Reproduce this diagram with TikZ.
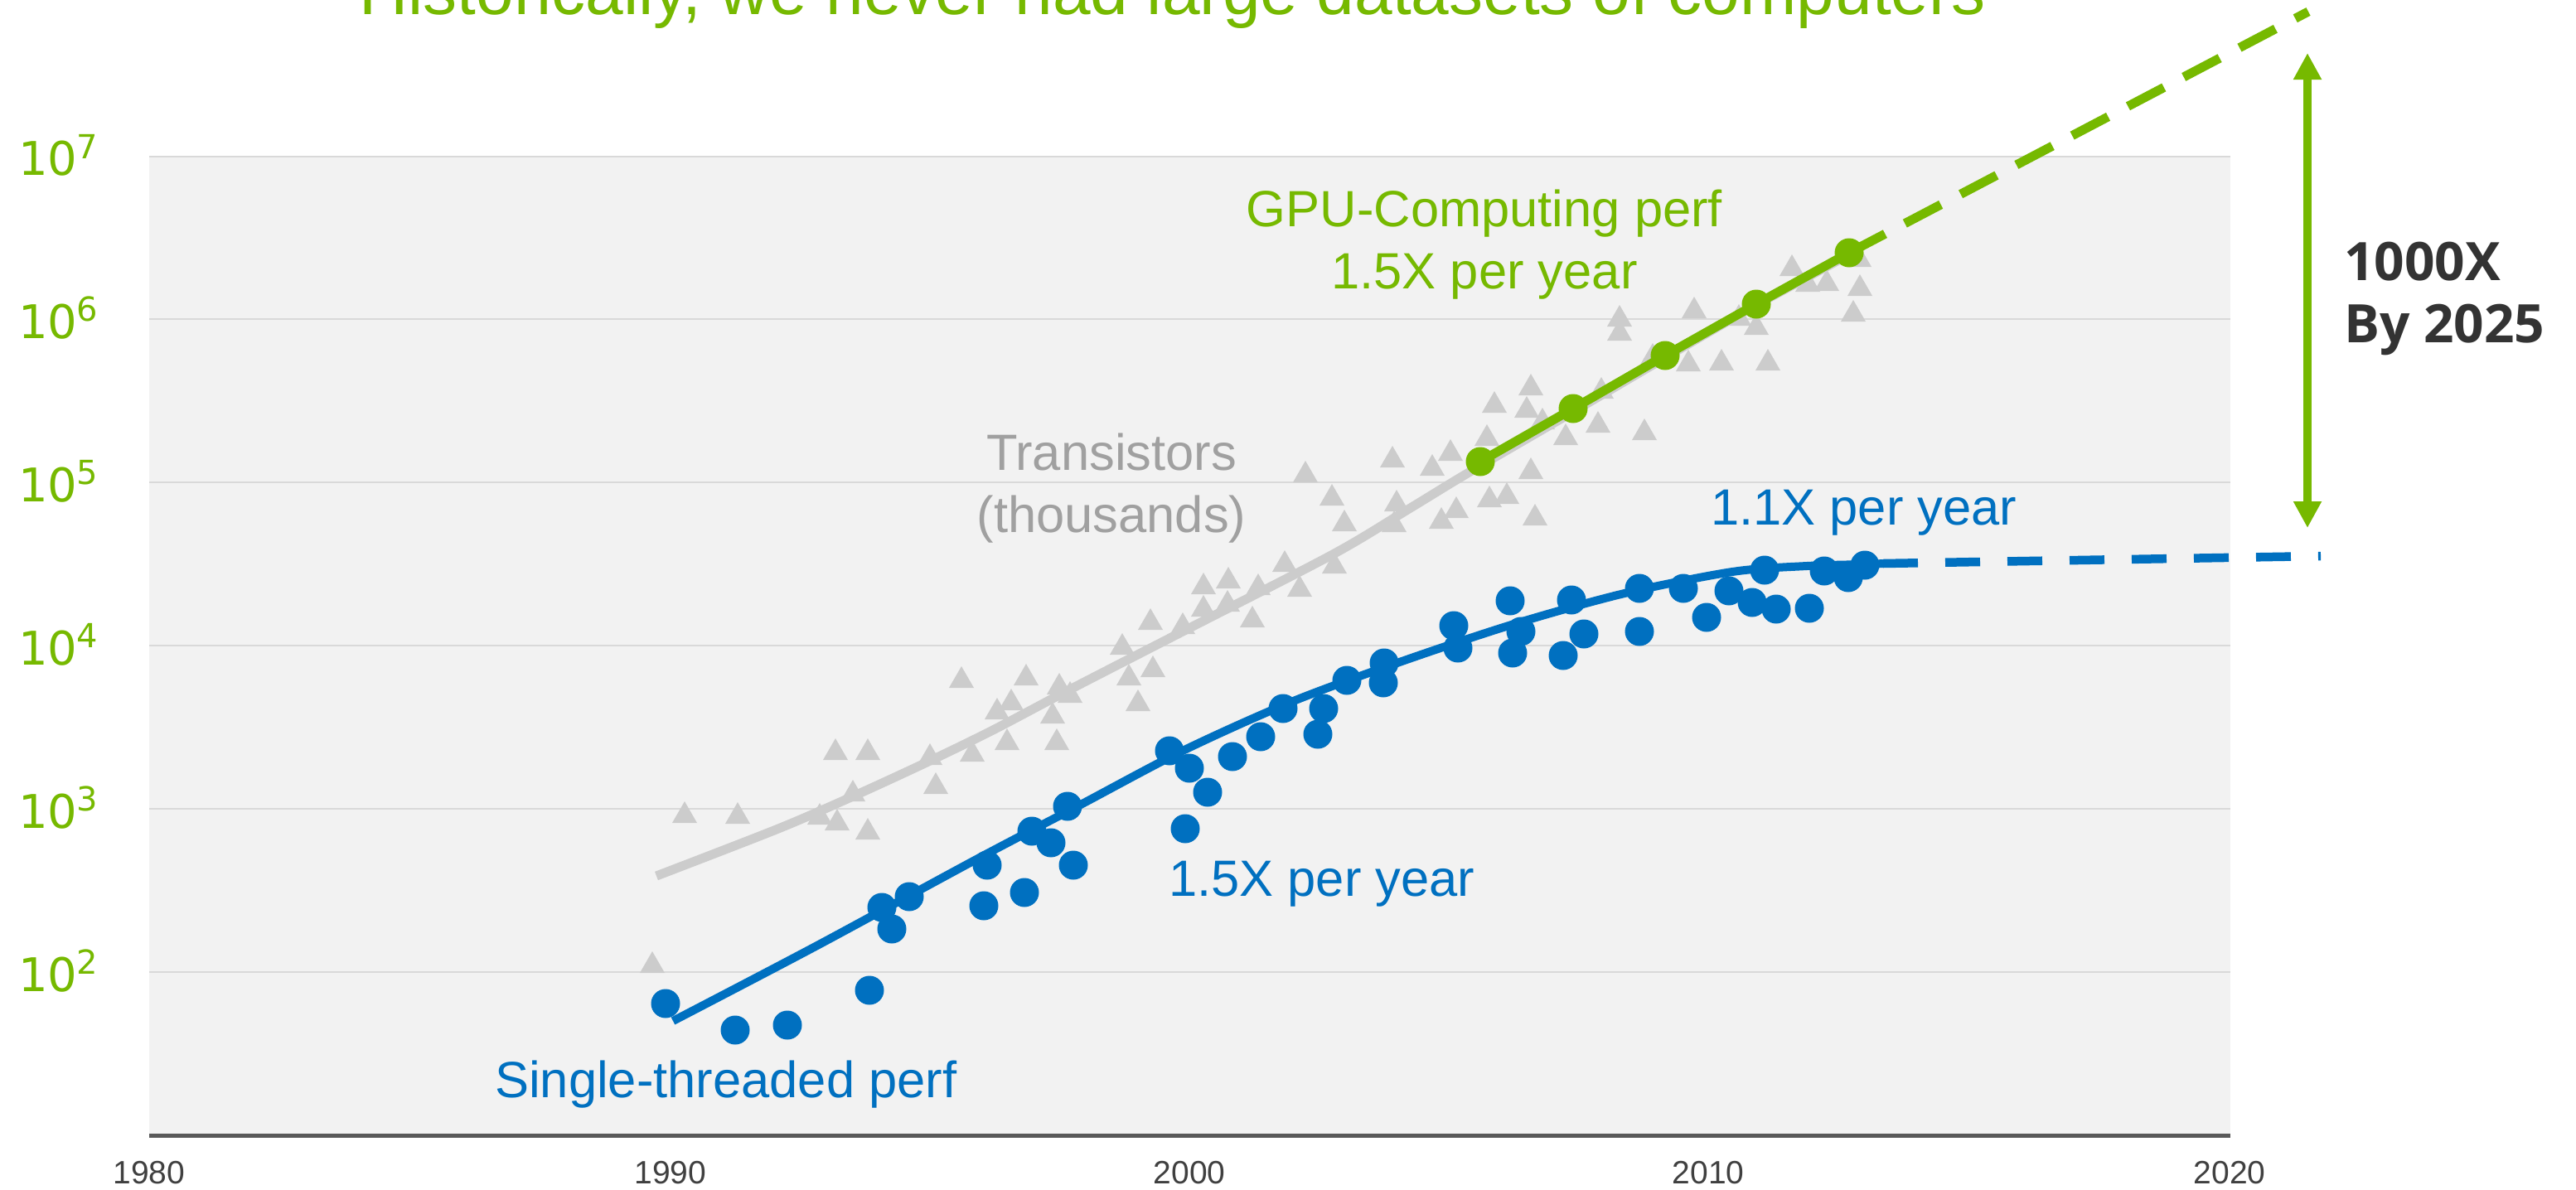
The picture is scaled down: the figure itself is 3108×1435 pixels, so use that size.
\documentclass[tikz,border=0pt]{standalone}
\usepackage{fontspec}
\setmainfont{Liberation Sans}
\newfontfamily\dejavu{DejaVu Sans}
\newfontfamily\osans{Open Sans}
\usetikzlibrary{arrows.meta}
\definecolor{nvgreen}{HTML}{76B900}
\definecolor{stblue}{HTML}{0070C0}
\definecolor{trgray}{HTML}{CCCCCC}
\definecolor{trtext}{HTML}{A0A0A0}
\definecolor{plotbg}{HTML}{F2F2F2}
\definecolor{gridc}{HTML}{D9D9D9}
\definecolor{axisc}{HTML}{595959}
\definecolor{darktxt}{HTML}{333333}
\definecolor{ticktxt}{HTML}{404040}
\begin{document}
\begin{tikzpicture}[x=1pt,y=-1pt,
  lbl/.style={inner sep=0pt, font=\fontsize{61.5pt}{75pt}\selectfont},
  ticklbl/.style={inner sep=0pt, anchor=base, text=ticktxt, font=\fontsize{39pt}{45pt}\selectfont},
  ylbl/.style={inner sep=0pt, anchor=base west, text=nvgreen, font=\dejavu\fontsize{56pt}{60pt}\selectfont},
  bigbold/.style={inner sep=0pt, anchor=base west, text=darktxt, font=\osans\bfseries\fontsize{64pt}{75pt}\selectfont},
  bluedot/.style={fill=stblue},
  greendot/.style={fill=nvgreen},
  tri/.style={fill=trgray},
  trend/.style={line width=11pt, line cap=butt, line join=round}]
\useasboundingbox (0,0) rectangle (3108,1435);
\fill[white] (0,0) rectangle (3108,1435);
% plot area
\fill[plotbg] (180,188) rectangle (2691,1368);
\foreach \k in {0,...,6} \draw[gridc, line width=2pt] (180,{188.5+\k*196.9}) -- (2691,{188.5+\k*196.9});
\draw[axisc, line width=5pt] (180,1370.5) -- (2691,1370.5);
% title (clipped at top)
\node[inner sep=0pt, anchor=base west, text=nvgreen, font=\fontsize{82pt}{90pt}\selectfont] (title) at (433,17) {Historically, we never had large datasets of computers};
% y labels
\foreach \e [count=\i from 0] in {7,6,5,4,3,2}
  \node[ylbl] (ylab\e) at (22,{188.5+\i*196.9+23}) {10\kern-1pt\raisebox{20.5pt}{\fontsize{40pt}{40pt}\selectfont\e}};
% x labels
\foreach \yr/\xx in {1980/180, 1990/809, 2000/1435, 2010/2061, 2020/2690}
  \node[ticklbl] (tick\yr) at (\xx,1428) {\yr};
% transistor trend
\draw[trgray, trend] plot[smooth, tension=0.5] coordinates {(792,1057) (939,1000) (1029,961) (1118,920) (1198,881) (1289,833) (1429,761) (1608,669) (1700,614) (1769,572) (1884,505) (1998,438) (2110,373) (2222,312)};
% transistor triangles
\foreach \x/\b in {787/1174, 826/993, 890/994, 989/995, 1010/1002, 1047/1013, 1029/967, 1008/917, 1047/917, 1122/923, 1129/958, 1173/919, 1215/905, 1275/905, 1160/830, 1220/857, 1238/827, 1203/868, 1270/873, 1278/838, 1291/848, 1354/790, 1362/827, 1391/817, 1373/858, 1388/760, 1427/765, 1452/717, 1482/710, 1452/744, 1481/738, 1518/718, 1511/757, 1550/690, 1568/720, 1610/692, 1622/641, 1682/642, 1739/638, 1757/625, 1852/634, 1575/582, 1607/610, 1680/564, 1685/617, 1728/574, 1750/556, 1803/498, 1794/538, 1842/504, 1847/477, 1861/518, 1847/578, 1889/537, 1928/522, 1932/481, 1984/531, 2037/448, 2077/447, 2133/447, 1797/612, 1818/608, 1954/394, 1954/411, 1994/440, 2044/384, 2098/393, 2119/404, 2162/333, 2181/352, 2204/351, 2244/357, 2236/388, 2243/322}
  \fill[tri] ({\x-15},\b) -- ({\x+15},\b) -- (\x,{\b-26}) -- cycle;
% single-threaded trend
\draw[stblue, trend, line width=10pt] plot[smooth, tension=0.5] coordinates {(812,1232) (984,1142) (1178,1037) (1300,973) (1429,905) (1563,845) (1700,795) (1830,752) (1960,716) (2090,690) (2180,683) (2250,681) (2272,680)};
\draw[stblue, line width=10.5pt, dash pattern=on 42pt off 33pt] (2272,680) -- (2800,671);
\foreach \x/\y in {803/1211, 887/1243, 950/1237, 1049/1195, 1064/1095, 1076/1121, 1097/1082, 1187/1093, 1236/1077, 1191/1044, 1245/1003, 1268/1017, 1295/1044, 1288/973, 1411/906, 1435/927, 1457/956, 1487/913, 1430/1000, 1521/889, 1548/855, 1597/855, 1590/886, 1625/821, 1670/800, 1669/824, 1754/755, 1759/782, 1822/725, 1835/762, 1825/788, 1896/724, 1911/765, 1886/791, 1978/710, 1978/762, 2031/710, 2059/745, 2086/713, 2114/727, 2143/735, 2183/734, 2129/688, 2201/689, 2230/697, 2250/682}
  \fill[bluedot] (\x,\y) circle[radius=17.5pt];
% GPU trend
\draw[nvgreen, trend] (1786,557) -- (1898,493) -- (2009,429) -- (2119,367) -- (2231,305);
\draw[nvgreen, line width=11pt, dash pattern=on 49pt off 27pt] (2231,305) -- (2785,14);
\foreach \x/\y in {1786/557, 1898/493, 2009/429, 2119/367, 2231/305}
  \fill[greendot] (\x,\y) circle[radius=17.5pt];
% labels
\node[lbl, text=nvgreen, anchor=base] (gpu1) at (1791,273) {GPU-Computing perf};
\node[lbl, text=nvgreen, anchor=base] (gpu2) at (1791,348) {1.5X per year};
\node[lbl, text=trtext, anchor=base] (tr1) at (1341,567) {Transistors};
\node[lbl, text=trtext, anchor=base] (tr2) at (1341,642) {(thousands)};
\node[lbl, text=stblue, anchor=base west] (st15) at (1410,1081) {1.5X per year};
\node[lbl, text=stblue, anchor=base west] (st11) at (2064,633) {1.1X per year};
\node[lbl, text=stblue, anchor=base west] (stp) at (597,1324) {Single-threaded perf};
% 1000X arrow
\coordinate (arrTop) at (2784,64);
\coordinate (arrBot) at (2784,637);
\draw[nvgreen, line width=10pt, {Triangle[width=32pt,length=32pt]}-{Triangle[width=32pt,length=32pt]}] (arrTop) -- (arrBot);
\node[bigbold] (kx) at (2828,338) {1000X};
\node[bigbold] (by) at (2828,413) {By 2025};
\end{tikzpicture}
\end{document}
